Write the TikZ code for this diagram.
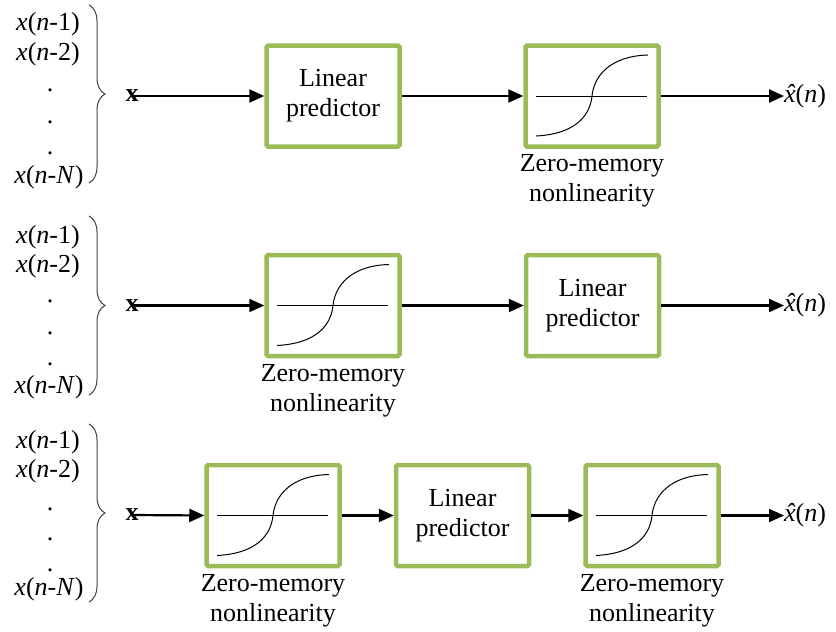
\documentclass[tikz,border=0pt]{standalone}
\usepackage{fontspec}
\setmainfont{Liberation Serif}
\usetikzlibrary{arrows.meta,decorations.pathreplacing,positioning}
\definecolor{boxgreen}{HTML}{9BBB59}
\newcommand\xhatsym{\textit{\accent"02C6 x}}
\tikzset{
  blk/.style={draw=boxgreen, line width=4.5pt, rounded corners=1.5pt,
    minimum width=133pt, minimum height=101pt, inner sep=0pt, align=center,
    font=\fontsize{26}{30}\selectfont},
  lbl/.style={font=\fontsize{26}{30}\selectfont, inner sep=0pt},
  caption/.style={font=\fontsize{26}{30}\selectfont, inner sep=0pt, align=center},
  flow/.style={line width=2.2pt, -{Triangle[length=15pt,width=13pt]}},
  brc/.style={decorate, decoration={brace, amplitude=16pt}, line width=1pt, draw=black!75},
  sig/.style={line width=1pt},
}
\begin{document}
\begin{tikzpicture}[x=1pt,y=-1pt]
\useasboundingbox (0,0) rectangle (836,632);

% input lists
\foreach \r/\ya/\yb/\yc/\yd/\ye/\yf/\bt/\bb in {1/30/60/91/123/154/183/5/183, 2/243/272/302/334/365/393/216/395, 3/448/477/510/540/571/595/424/602} {
  \node[lbl,anchor=base] (r\r a) at (48,\ya) {\textit{x}(\textit{n}-1)};
  \node[lbl,anchor=base] (r\r b) at (48,\yb) {\textit{x}(\textit{n}-2)};
  \node[lbl,anchor=base] (r\r c) at (50,\yc) {.};
  \node[lbl,anchor=base] (r\r d) at (50,\yd) {.};
  \node[lbl,anchor=base] (r\r e) at (50,\ye) {.};
  \node[lbl,anchor=base] (r\r f) at (49,\yf) {\textit{x}(\textit{n}-\textit{N})};
  \coordinate (bt\r) at (89,\bt);
  \coordinate (bb\r) at (89,\bb);
  \draw[brc] (bt\r) -- (bb\r);
}

% input x labels
\node[lbl] (x1) at (132,96) {\textbf{x}};
\node[lbl] (x2) at (132,305.5) {\textbf{x}};
\node[lbl] (x3) at (132,515) {\textbf{x}};

% row 1
\node[blk] (lp1) at (333,96) {Linear\\predictor};
\node[blk] (nl1) at (592,96) {};
\node[caption, below=6pt of nl1] (c1) {Zero-memory\\nonlinearity};
\coordinate (o1) at (784,96);
\node[lbl, anchor=west] (y1) at (o1) {\xhatsym(\textit{n})};

% row 2
\node[blk] (nl2) at (333,305.5) {};
\node[caption, below=6pt of nl2] (c2) {Zero-memory\\nonlinearity};
\node[blk] (lp2) at (592.5,305.5) {Linear\\predictor};
\coordinate (o2) at (784,305.5);
\node[lbl, anchor=west] (y2) at (o2) {\xhatsym(\textit{n})};

% row 3
\node[blk] (nl3) at (273,515.5) {};
\node[caption, below=6pt of nl3] (c3) {Zero-memory\\nonlinearity};
\node[blk] (lp3) at (462.5,515.5) {Linear\\predictor};
\node[blk] (nl4) at (652,515.5) {};
\node[caption, below=6pt of nl4] (c4) {Zero-memory\\nonlinearity};
\coordinate (o3) at (784,515.5);
\node[lbl, anchor=west] (y3) at (o3) {\xhatsym(\textit{n})};

% sigmoid symbols
\foreach \n in {nl1,nl2,nl3,nl4} {
  \begin{scope}[shift={(\n.center)}]
    \draw[sig] (-56,0) -- (55,0);
    \draw[sig] (-56,40) .. controls (-17,38) and (-2,20) .. (0,0)
                        .. controls (2,-20) and (18,-40) .. (56,-41);
  \end{scope}
}

% connectors
\draw[flow] (x1.center) -- (lp1.west);
\draw[flow] (lp1.east) -- (nl1.west);
\draw[flow] (nl1.east) -- (o1);

\draw[flow] (x2.center) -- (nl2.west);
\draw[flow] (nl2.east) -- (lp2.west);
\draw[flow] (lp2.east) -- (o2);

\draw[flow] (x3.center) -- (nl3.west);
\draw[flow] (nl3.east) -- (lp3.west);
\draw[flow] (lp3.east) -- (nl4.west);
\draw[flow] (nl4.east) -- (o3);
\end{tikzpicture}
\end{document}
